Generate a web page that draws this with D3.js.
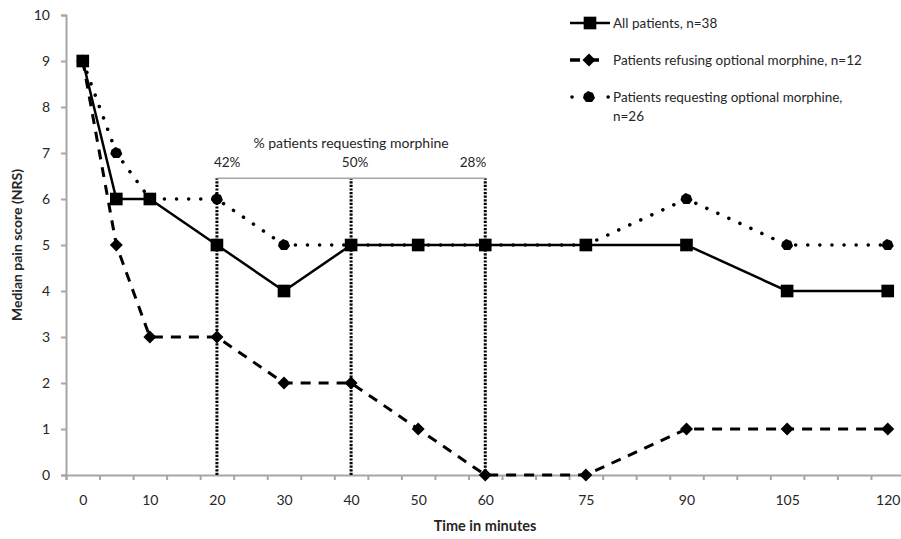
<!DOCTYPE html>
<html>
<head>
<meta charset="utf-8">
<script src="https://cdn.jsdelivr.net/npm/d3@7"></script>
<style>
  body { margin: 0; background: #fff; }
  svg text { font-family: Lato, "Open Sans", sans-serif; fill: #262626; }
</style>
</head>
<body>
<svg id="chart"></svg>
<script>
// data
let minutes = [0, 5, 10, 20, 30, 40, 50, 60, 75, 90, 105, 120]
let allPatients = [9, 6, 6, 5, 4, 5, 5, 5, 5, 5, 4, 4]
let refusing = [9, 5, 3, 3, 2, 2, 1, 0, 0, 1, 1, 1]
let requesting = [9, 7, 6, 6, 5, 5, 5, 5, 5, 6, 5, 5]
let xLabels = [0, 10, 20, 30, 40, 50, 60, 75, 90, 105, 120]
let yLabels = [0, 1, 2, 3, 4, 5, 6, 7, 8, 9, 10]
let morphineTimes = [20, 40, 60]
let morphinePct = ['42%', '50%', '28%']
let legendNames = ['All patients, n=38', 'Patients refusing optional morphine, n=12', 'Patients requesting optional morphine,']

let width = 901
let height = 539

let svg = d3.select('#chart').attr('width', width).attr('height', height)

// x is a category axis of 5 minute steps, so boundaries sit at half steps
let xScale = d3.scaleLinear().domain([-2.5, 122.5]).range([66, 904.5])
let yScale = d3.scaleLinear().domain([0, 10]).range([475, 15])

// axes
let xTicks = d3.range(-2.5, 123, 5)
svg.append('g')
    .attr('transform', `translate(0, ${yScale(0)})`)
    .call(d3.axisBottom(xScale).tickValues(xTicks).tickSize(5).tickFormat(''))
    .call(g => g.selectAll('line, path').attr('stroke', '#a6a6a6').attr('stroke-width', 2))

svg.append('g')
    .attr('transform', `translate(0, ${yScale(0)})`)
    .call(d3.axisBottom(xScale).tickValues(xLabels).tickSize(0).tickPadding(20))
    .call(g => g.select('.domain').remove())
    .call(g => g.selectAll('text').style('font-size', '14px').style('font-family', 'Lato').attr('fill', '#262626'))

svg.append('g')
    .attr('transform', `translate(${xScale(-2.5)}, 0)`)
    .call(d3.axisLeft(yScale).tickValues(yLabels).tickSize(5).tickPadding(11).tickFormat(d3.format('d')))
    .call(g => g.selectAll('line, path').attr('stroke', '#a6a6a6').attr('stroke-width', 2))
    .call(g => g.selectAll('text').style('font-size', '14px').style('font-family', 'Lato').attr('fill', '#262626'))

// axis titles
svg.append('text')
    .attr('x', 485).attr('y', 531)
    .attr('text-anchor', 'middle')
    .style('font-size', '14.5px').style('font-weight', 'bold')
    .text('Time in minutes')

svg.append('text')
    .attr('transform', `translate(22, ${yScale(5.0)}) rotate(-90)`)
    .attr('text-anchor', 'middle')
    .style('font-size', '14px').style('font-weight', 'bold')
    .text('Median pain score (NRS)')

// morphine request bracket
let bracketTop = 6.45
svg.selectAll('.vline')
    .data(morphineTimes)
    .enter()
    .append('line')
    .attr('x1', d => xScale(d)).attr('x2', d => xScale(d))
    .attr('y1', yScale(0)).attr('y2', yScale(bracketTop))
    .attr('stroke', '#000').attr('stroke-width', 3)
    .attr('stroke-dasharray', '2.2,1.4')

svg.append('line')
    .attr('x1', xScale(20)).attr('x2', xScale(60))
    .attr('y1', yScale(bracketTop)).attr('y2', yScale(bracketTop))
    .attr('stroke', '#a6a6a6').attr('stroke-width', 1.5)

svg.selectAll('.pct')
    .data(morphinePct)
    .enter()
    .append('text')
    .attr('x', (d, i) => xScale(morphineTimes[i]))
    .attr('dx', (d, i) => [-3, 4, 1][i])
    .attr('y', yScale(bracketTop) - 11)
    .attr('text-anchor', (d, i) => ['start', 'middle', 'end'][i])
    .style('font-size', '13.5px')
    .text(d => d)

svg.append('text')
    .attr('x', xScale(40)).attr('y', yScale(bracketTop) - 30)
    .attr('text-anchor', 'middle')
    .style('font-size', '14px')
    .text('% patients requesting morphine')

// series
let line = d3.line().x((d, i) => xScale(minutes[i])).y(d => yScale(d))

const drawSeries = (values, dash, width, marker) => {
    let g = svg.append('g')
    g.append('path')
        .datum(values)
        .attr('d', line)
        .attr('fill', 'none')
        .attr('stroke', '#000')
        .attr('stroke-width', width)
        .attr('stroke-dasharray', dash)
        .attr('stroke-linecap', dash === '0.1,12' ? 'round' : 'butt')
    g.selectAll('path.m')
        .data(values)
        .enter()
        .append('path')
        .attr('class', 'm')
        .attr('d', marker)
        .attr('transform', (d, i) => `translate(${xScale(minutes[i])}, ${yScale(d)})`)
        .attr('fill', '#000')
}

let square = d3.symbol().type(d3.symbolSquare).size(160)()
let diamond = 'M0,-6.5L6.5,0L0,6.5L-6.5,0Z'
let blob = 'M-1,-6L4,-4L6,1L3,5L-3,5L-6,1L-5,-3Z'

drawSeries(requesting, '0.1,12', 3.5, blob)
drawSeries(refusing, '10,8', 3, diamond)
drawSeries(allPatients, null, 2.5, square)

// legend
let legendY = [23, 60, 97]
let legendMarker = [square, diamond, blob]
let legend = svg.append('g')
legendNames.forEach((name, i) => {
    let row = legend.append('g').attr('transform', `translate(570, ${legendY[i]})`)
    row.append('line')
        .attr('x1', i === 2 ? 2 : 0).attr('x2', i === 0 ? 40 : (i === 1 ? 33 : 39))
        .attr('stroke', '#000')
        .attr('stroke-width', i === 0 ? 2.5 : 3.5)
        .attr('stroke-dasharray', i === 1 ? '10,9' : (i === 2 ? '0.1,36' : null))
        .attr('stroke-linecap', i === 2 ? 'round' : 'butt')
    row.append('path')
        .attr('d', legendMarker[i])
        .attr('transform', `translate(${i === 0 ? 20 : 19}, 0)`)
    row.append('text')
        .attr('x', 43).attr('y', 5)
        .style('font-size', '13.5px')
        .text(name)
})
legend.append('text')
    .attr('x', 613).attr('y', 121)
    .style('font-size', '13.5px')
    .text('n=26')
</script>
</body>
</html>
